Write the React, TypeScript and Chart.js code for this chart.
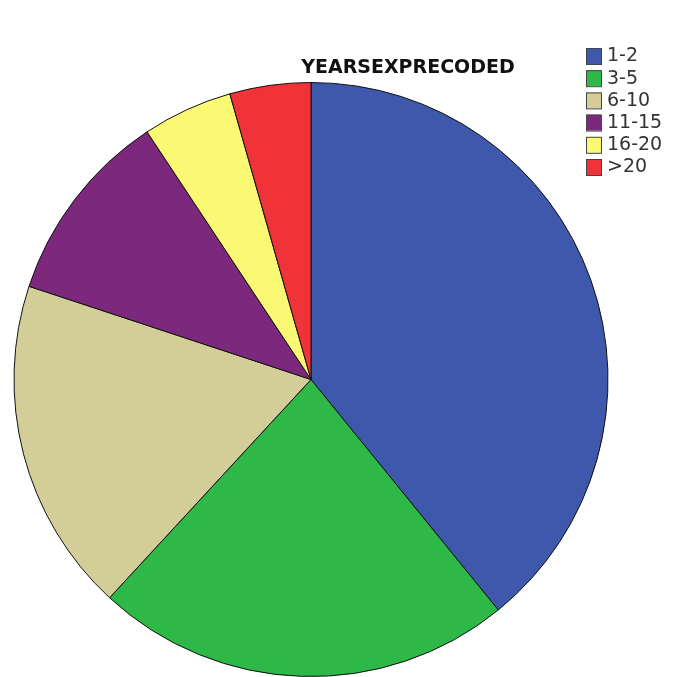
import React, { useEffect, useRef } from "react";
import { Chart, registerables } from "chart.js";

Chart.register(...registerables);

const categories = ["1-2", "3-5", "6-10", "11-15", "16-20", ">20"];
const percentages = [39.1, 22.7, 18.2, 10.6, 4.9, 4.4];
const sliceColors = ["#3E58AC", "#2EB848", "#D3CE97", "#7C287D", "#FBF873", "#EF3338"];
const chartTitle = "YEARSEXPRECODED";

const overlayPlugin = {
  id: "spssOverlay",
  afterDraw(chart: any) {
    const ctx = chart.ctx;
    ctx.save();
    // title
    ctx.font = "bold 19px 'DejaVu Sans'";
    ctx.fillStyle = "#111";
    ctx.textAlign = "center";
    ctx.textBaseline = "middle";
    ctx.fillText(chartTitle, 408, 68);
    // legend
    const labels: string[] = chart.data.labels;
    const colors: string[] = chart.data.datasets[0].backgroundColor;
    ctx.font = "19px 'DejaVu Sans'";
    ctx.textAlign = "left";
    labels.forEach((lab, i) => {
      const y = 48 + i * 22.2;
      ctx.fillStyle = colors[i];
      ctx.fillRect(586, y, 15, 16);
      ctx.strokeStyle = "#444";
      ctx.lineWidth = 1;
      ctx.strokeRect(586.5, y + 0.5, 15, 16);
      ctx.fillStyle = "#333";
      ctx.fillText(lab, 607, y + 8.5);
    });
    ctx.restore();
  },
};

export default function App() {
  const ref = useRef<HTMLCanvasElement>(null);
  useEffect(() => {
    if (!ref.current) return;
    const chart = new Chart(ref.current, {
      type: "pie",
      data: {
        labels: categories,
        datasets: [
          {
            data: percentages,
            backgroundColor: sliceColors,
            borderColor: "#111",
            borderWidth: 1,
          },
        ],
      },
      options: {
        responsive: false,
        animation: false,
        layout: { padding: { left: 13, right: 73, top: 82, bottom: -1 } },
        plugins: {
          legend: { display: false },
          title: { display: false },
          tooltip: { enabled: false },
        },
      },
      plugins: [overlayPlugin],
    });
    return () => chart.destroy();
  }, []);
  return (
    <div style={{ position: "fixed", left: 0, top: 0, width: 682, height: 677, background: "#fff" }}>
      <canvas ref={ref} width={682} height={677} />
    </div>
  );
}
